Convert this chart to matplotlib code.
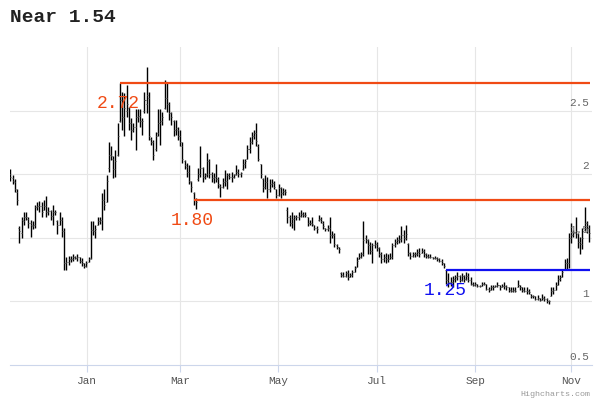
import matplotlib
matplotlib.use("Agg")
import matplotlib.pyplot as plt
import matplotlib.dates as mdates
import numpy as np
import pandas as pd

# daily bars, 2010-11-15 .. 2011-11-11 (weekdays)
dates = pd.bdate_range("2010-11-15", periods=260)

highs = [
    2.04, 1.99, 1.96, 1.88, 1.59, 1.66, 1.70, 1.70, 1.66, 1.64,
    1.63, 1.76, 1.78, 1.79, 1.78, 1.80, 1.83, 1.74, 1.72, 1.76,
    1.72, 1.64, 1.70, 1.66, 1.58, 1.35, 1.36, 1.36, 1.37, 1.36,
    1.37, 1.35, 1.34, 1.30, 1.32, 1.35, 1.63, 1.63, 1.60, 1.66,
    1.66, 1.85, 1.88, 1.99, 2.25, 2.22, 2.14, 2.19, 2.40, 2.72,
    2.65, 2.64, 2.70, 2.53, 2.44, 2.40, 2.51, 2.51, 2.51, 2.44,
    2.65, 2.84, 2.65, 2.29, 2.27, 2.33, 2.51, 2.51, 2.49, 2.74,
    2.72, 2.57, 2.49, 2.43, 2.43, 2.37, 2.35, 2.25, 2.11, 2.09,
    2.07, 1.95, 1.86, 1.81, 2.05, 2.22, 2.06, 2.01, 2.17, 2.12,
    2.02, 2.01, 2.08, 1.98, 1.92, 1.97, 2.03, 2.01, 2.01, 2.02,
    2.00, 2.07, 2.04, 2.02, 2.12, 2.12, 2.23, 2.29, 2.33, 2.35,
    2.40, 2.24, 2.08, 1.97, 1.99, 1.98, 1.96, 1.96, 1.95, 1.88,
    1.92, 1.90, 1.89, 1.88, 1.74, 1.68, 1.70, 1.68, 1.68, 1.70,
    1.72, 1.70, 1.70, 1.66, 1.64, 1.66, 1.60, 1.59, 1.68, 1.66,
    1.63, 1.58, 1.60, 1.66, 1.55, 1.54, 1.45, 1.43, 1.23, 1.23,
    1.24, 1.25, 1.22, 1.25, 1.28, 1.35, 1.38, 1.39, 1.63, 1.52,
    1.49, 1.47, 1.46, 1.48, 1.47, 1.43, 1.39, 1.37, 1.38, 1.37,
    1.38, 1.46, 1.49, 1.51, 1.52, 1.59, 1.56, 1.60, 1.46, 1.39,
    1.39, 1.39, 1.41, 1.42, 1.42, 1.41, 1.38, 1.37, 1.37, 1.35,
    1.36, 1.35, 1.34, 1.33, 1.30, 1.25, 1.22, 1.19, 1.20, 1.21,
    1.23, 1.21, 1.22, 1.21, 1.23, 1.22, 1.19, 1.15, 1.15, 1.14,
    1.13, 1.15, 1.15, 1.14, 1.11, 1.13, 1.13, 1.13, 1.15, 1.13,
    1.14, 1.15, 1.13, 1.11, 1.11, 1.11, 1.11, 1.17, 1.13, 1.11,
    1.11, 1.11, 1.10, 1.06, 1.05, 1.04, 1.05, 1.03, 1.06, 1.04,
    1.03, 1.01, 1.11, 1.11, 1.15, 1.21, 1.21, 1.25, 1.33, 1.34,
    1.54, 1.62, 1.56, 1.66, 1.54, 1.51, 1.58, 1.74, 1.63, 1.60,
]

lows = [
    1.95, 1.92, 1.86, 1.76, 1.46, 1.50, 1.60, 1.64, 1.58, 1.51,
    1.57, 1.58, 1.72, 1.70, 1.66, 1.72, 1.66, 1.68, 1.64, 1.60,
    1.68, 1.53, 1.60, 1.51, 1.25, 1.25, 1.29, 1.31, 1.32, 1.33,
    1.32, 1.30, 1.28, 1.26, 1.27, 1.31, 1.33, 1.52, 1.50, 1.60,
    1.61, 1.56, 1.72, 1.78, 2.02, 2.11, 1.97, 1.98, 2.14, 2.41,
    2.35, 2.30, 2.45, 2.35, 2.27, 2.33, 2.19, 2.41, 2.37, 2.31,
    2.48, 2.48, 2.27, 2.23, 2.11, 2.18, 2.30, 2.23, 2.39, 2.51,
    2.49, 2.43, 2.39, 2.30, 2.31, 2.27, 2.22, 2.09, 2.04, 1.98,
    1.92, 1.86, 1.76, 1.73, 1.95, 1.98, 1.94, 1.96, 1.98, 1.97,
    1.94, 1.93, 1.94, 1.89, 1.82, 1.89, 1.91, 1.88, 1.96, 1.94,
    1.97, 1.99, 1.98, 1.98, 2.03, 2.05, 2.12, 2.17, 2.24, 2.28,
    2.22, 2.10, 1.97, 1.86, 1.88, 1.81, 1.86, 1.90, 1.88, 1.81,
    1.83, 1.81, 1.84, 1.84, 1.62, 1.59, 1.58, 1.56, 1.64, 1.64,
    1.66, 1.66, 1.66, 1.59, 1.60, 1.59, 1.56, 1.54, 1.63, 1.62,
    1.57, 1.55, 1.55, 1.46, 1.50, 1.43, 1.41, 1.38, 1.19, 1.19,
    1.19, 1.17, 1.19, 1.19, 1.23, 1.27, 1.33, 1.34, 1.36, 1.46,
    1.37, 1.37, 1.30, 1.42, 1.40, 1.35, 1.30, 1.31, 1.30, 1.31,
    1.33, 1.33, 1.43, 1.45, 1.46, 1.47, 1.46, 1.48, 1.36, 1.33,
    1.35, 1.35, 1.36, 1.35, 1.38, 1.35, 1.34, 1.34, 1.34, 1.33,
    1.33, 1.32, 1.31, 1.29, 1.26, 1.14, 1.11, 1.12, 1.11, 1.15,
    1.17, 1.15, 1.16, 1.15, 1.17, 1.15, 1.13, 1.12, 1.12, 1.11,
    1.11, 1.12, 1.13, 1.09, 1.07, 1.09, 1.09, 1.11, 1.11, 1.09,
    1.11, 1.10, 1.09, 1.07, 1.07, 1.07, 1.07, 1.11, 1.09, 1.07,
    1.07, 1.06, 1.06, 1.03, 1.03, 1.01, 1.01, 1.00, 1.01, 1.00,
    0.99, 0.98, 1.04, 1.06, 1.09, 1.13, 1.16, 1.19, 1.25, 1.25,
    1.26, 1.46, 1.51, 1.50, 1.42, 1.37, 1.41, 1.55, 1.54, 1.47,
]

opens = [
    2.00, 1.97, 1.94, 1.86, 1.58, 1.54, 1.63, 1.66, 1.65, 1.62,
    1.59, 1.60, 1.74, 1.75, 1.75, 1.72, 1.75, 1.70, 1.71, 1.67,
    1.70, 1.63, 1.60, 1.64, 1.55, 1.30, 1.31, 1.33, 1.33, 1.35,
    1.34, 1.35, 1.32, 1.30, 1.28, 1.31, 1.34, 1.56, 1.55, 1.60,
    1.63, 1.64, 1.80, 1.78, 2.05, 2.15, 2.12, 2.04, 2.15, 2.42,
    2.58, 2.45, 2.50, 2.52, 2.40, 2.35, 2.37, 2.45, 2.46, 2.42,
    2.50, 2.55, 2.60, 2.28, 2.25, 2.20, 2.32, 2.40, 2.42, 2.52,
    2.60, 2.55, 2.48, 2.42, 2.35, 2.35, 2.30, 2.22, 2.10, 2.06,
    2.02, 1.94, 1.85, 1.80, 1.96, 2.00, 2.05, 1.98, 2.00, 2.10,
    2.00, 1.97, 1.98, 1.96, 1.91, 1.90, 1.94, 1.95, 1.99, 1.98,
    1.98, 2.00, 2.02, 2.00, 2.04, 2.08, 2.12, 2.20, 2.25, 2.30,
    2.32, 2.22, 2.08, 1.96, 1.90, 1.94, 1.88, 1.92, 1.93, 1.88,
    1.84, 1.89, 1.85, 1.87, 1.72, 1.66, 1.62, 1.65, 1.66, 1.66,
    1.67, 1.69, 1.68, 1.66, 1.62, 1.62, 1.60, 1.58, 1.64, 1.65,
    1.62, 1.58, 1.57, 1.58, 1.52, 1.52, 1.44, 1.43, 1.22, 1.21,
    1.20, 1.22, 1.19, 1.21, 1.23, 1.27, 1.33, 1.35, 1.37, 1.50,
    1.48, 1.44, 1.40, 1.44, 1.45, 1.42, 1.37, 1.33, 1.35, 1.33,
    1.33, 1.35, 1.44, 1.47, 1.48, 1.49, 1.52, 1.50, 1.45, 1.38,
    1.36, 1.37, 1.37, 1.39, 1.38, 1.40, 1.37, 1.36, 1.35, 1.35,
    1.34, 1.34, 1.33, 1.32, 1.30, 1.25, 1.17, 1.15, 1.15, 1.18,
    1.19, 1.20, 1.17, 1.20, 1.18, 1.20, 1.17, 1.14, 1.13, 1.14,
    1.12, 1.12, 1.14, 1.14, 1.10, 1.09, 1.11, 1.11, 1.12, 1.13,
    1.11, 1.12, 1.12, 1.11, 1.09, 1.08, 1.09, 1.11, 1.13, 1.11,
    1.09, 1.08, 1.08, 1.06, 1.04, 1.04, 1.02, 1.03, 1.01, 1.03,
    1.02, 1.00, 1.04, 1.08, 1.09, 1.13, 1.18, 1.19, 1.25, 1.30,
    1.30, 1.50, 1.52, 1.54, 1.53, 1.47, 1.45, 1.56, 1.62, 1.58,
]

closes = [
    1.98, 1.95, 1.88, 1.80, 1.55, 1.64, 1.66, 1.66, 1.62, 1.60,
    1.60, 1.74, 1.75, 1.75, 1.70, 1.75, 1.70, 1.71, 1.67, 1.70,
    1.70, 1.60, 1.64, 1.55, 1.30, 1.31, 1.33, 1.33, 1.35, 1.34,
    1.35, 1.32, 1.30, 1.28, 1.30, 1.33, 1.56, 1.55, 1.57, 1.63,
    1.64, 1.80, 1.76, 1.95, 2.15, 2.14, 2.04, 2.10, 2.30, 2.58,
    2.45, 2.52, 2.55, 2.40, 2.35, 2.37, 2.45, 2.46, 2.42, 2.42,
    2.58, 2.62, 2.30, 2.25, 2.15, 2.30, 2.40, 2.42, 2.45, 2.60,
    2.55, 2.48, 2.45, 2.35, 2.36, 2.30, 2.25, 2.12, 2.07, 2.02,
    1.95, 1.90, 1.80, 1.78, 2.00, 2.05, 1.98, 1.99, 2.10, 2.00,
    1.97, 1.98, 1.96, 1.92, 1.90, 1.94, 1.95, 1.99, 1.98, 1.98,
    1.99, 2.02, 2.00, 2.01, 2.08, 2.10, 2.20, 2.25, 2.30, 2.32,
    2.26, 2.12, 2.00, 1.90, 1.94, 1.88, 1.92, 1.93, 1.90, 1.84,
    1.89, 1.85, 1.87, 1.86, 1.66, 1.62, 1.65, 1.66, 1.66, 1.67,
    1.69, 1.68, 1.68, 1.62, 1.62, 1.61, 1.58, 1.57, 1.65, 1.63,
    1.59, 1.57, 1.58, 1.52, 1.52, 1.45, 1.43, 1.41, 1.21, 1.20,
    1.22, 1.19, 1.21, 1.23, 1.26, 1.32, 1.35, 1.37, 1.48, 1.48,
    1.44, 1.40, 1.44, 1.45, 1.42, 1.37, 1.33, 1.35, 1.33, 1.33,
    1.35, 1.44, 1.47, 1.48, 1.49, 1.52, 1.50, 1.53, 1.38, 1.36,
    1.37, 1.37, 1.39, 1.37, 1.40, 1.37, 1.36, 1.35, 1.35, 1.34,
    1.34, 1.33, 1.32, 1.30, 1.28, 1.17, 1.15, 1.15, 1.18, 1.19,
    1.20, 1.17, 1.20, 1.18, 1.20, 1.17, 1.14, 1.13, 1.14, 1.12,
    1.12, 1.14, 1.14, 1.10, 1.09, 1.11, 1.11, 1.12, 1.13, 1.11,
    1.12, 1.12, 1.11, 1.09, 1.08, 1.09, 1.08, 1.13, 1.11, 1.09,
    1.08, 1.08, 1.07, 1.04, 1.04, 1.02, 1.03, 1.01, 1.03, 1.02,
    1.00, 1.00, 1.08, 1.09, 1.13, 1.18, 1.19, 1.23, 1.30, 1.30,
    1.50, 1.52, 1.54, 1.55, 1.47, 1.45, 1.50, 1.62, 1.58, 1.54,
]

# support / resistance levels: (value, index of the bar they start from, colour)
level_values = [2.72, 1.80, 1.25]
level_start = [49, 82, 195]
level_colors = ["#f04a14", "#f04a14", "#1010f0"]

month_starts = ["2011-01-01", "2011-03-01", "2011-05-01",
                "2011-07-01", "2011-09-01", "2011-11-01"]
month_labels = ["Jan", "Mar", "May", "Jul", "Sep", "Nov"]
y_levels = [1.0, 1.5, 2.0, 2.5]
y_labels = ["0.5", "1", "1.5", "2", "2.5"]

mono = "Liberation Mono"
idx = np.arange(len(dates))

fig = plt.figure(figsize=(6, 4), dpi=100)
ax = fig.add_axes([10 / 600, 35 / 400, 582 / 600, 318 / 400])

for v in y_levels:
    ax.axhline(v, color="#e6e6e6", linewidth=0.8, zorder=0)

tick_pos = np.interp(mdates.date2num(pd.to_datetime(month_starts)),
                     mdates.date2num(dates), idx)
for p in tick_pos:
    ax.axvline(p, color="#e6e6e6", linewidth=0.8, zorder=0)

# OHLC bars
ax.vlines(idx, lows, highs, color="black", linewidth=1.0, zorder=3)
ax.hlines(opens, idx - 0.45, idx, color="#555555", linewidth=0.7, zorder=3)
ax.hlines(closes, idx, idx + 0.45, color="#555555", linewidth=0.7, zorder=3)

ax.set_xlim(-0.2, 260.3)
ax.set_ylim(0.5, 3.0)

for v, s, c in zip(level_values, level_start, level_colors):
    ax.hlines(v, s, idx[-1] + 0.5, color=c, linewidth=1.6, zorder=4)
    ax.annotate(f"{v:.2f}", xy=(s, v), xytext=(-1, -15), textcoords="offset points",
                ha="center", va="center", color=c, fontsize=13,
                family=mono, zorder=5)

# y labels sit on the right, just above their grid line
for v, lab in zip([0.5] + y_levels, y_labels):
    ax.annotate(lab, xy=(1, v), xycoords=("axes fraction", "data"),
                xytext=(-2, 2), textcoords="offset points",
                ha="right", va="bottom", fontsize=8, family=mono, color="#666666")

ax.set_yticks([])
ax.set_xticks(tick_pos)
ax.set_xticklabels(month_labels, family=mono, fontsize=8, color="#555555")
ax.tick_params(axis="x", length=5, color="#ccd6eb", pad=3)

for side in ["top", "left", "right"]:
    ax.spines[side].set_visible(False)
ax.spines["bottom"].set_color("#ccd6eb")

fig.text(10 / 600, 1 - 18 / 400, "Near 1.54", family=mono, fontweight="bold",
         fontsize=14, va="center", ha="left", color="#222222")
fig.text(590 / 600, 1 - 394 / 400, "Highcharts.com", family=mono, fontsize=6,
         color="#999999", ha="right", va="center")

fig.savefig("out.png", dpi=100)
